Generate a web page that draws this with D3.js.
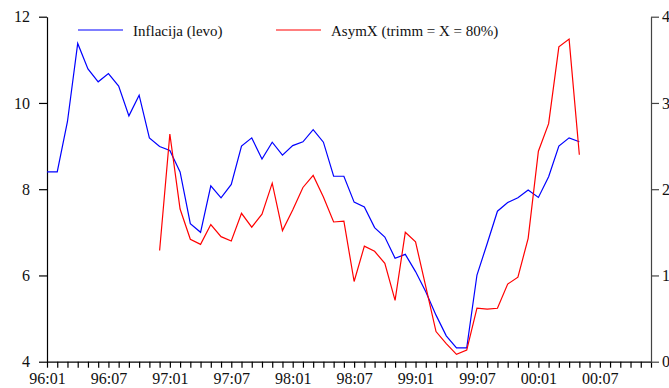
<!DOCTYPE html>
<html>
<head>
<meta charset="utf-8">
<script src="https://cdn.jsdelivr.net/npm/d3@7"></script>
<style>
  body { margin: 0; background: #fff; }
  .axis path, .axis line { stroke: #000; stroke-width: 1.2; }
  .raxis path, .raxis line { stroke: #444; }
</style>
</head>
<body>
<svg id="chart"></svg>
<script>
// months run from 96:01 (index 0) to 00:12 (index 59)
const monthCount = 60
const tickLabels = ['96:01', '96:07', '97:01', '97:07', '98:01', '98:07', '99:01', '99:07', '00:01', '00:07']

// inflation, left axis, from 96:01
const inflacija = [8.40, 8.40, 9.57, 11.38, 10.79, 10.49, 10.68, 10.39, 9.70, 10.18,
  9.19, 8.99, 8.90, 8.40, 7.20, 7.00, 8.08, 7.80, 8.11, 9.00,
  9.19, 8.70, 9.09, 8.79, 9.01, 9.10, 9.38, 9.09, 8.30, 8.30,
  7.70, 7.59, 7.11, 6.89, 6.40, 6.49, 6.09, 5.62, 5.08, 4.60,
  4.32, 4.32, 6.01, 6.74, 7.49, 7.69, 7.80, 7.98, 7.81, 8.29,
  9.00, 9.19, 9.10]

// AsymX, right axis, starts at 96:12
const asymStart = 11
const asymX = [1.29, 2.64, 1.77, 1.42, 1.36, 1.59, 1.45, 1.40, 1.72,
  1.56, 1.71, 2.07, 1.52, 1.76, 2.02, 2.16, 1.91, 1.62, 1.63,
  0.93, 1.34, 1.28, 1.14, 0.71, 1.50, 1.39, 0.87, 0.35, 0.21,
  0.085, 0.135, 0.62, 0.61, 0.62, 0.90, 0.98, 1.43, 2.44, 2.76,
  3.65, 3.74, 2.40]

const leftTicks = [4, 6, 8, 10, 12]
const rightTicks = [0, 1, 2, 3, 4]

const serif = 'Liberation Serif, Times New Roman, Times, serif'
const width = 669, height = 388
const svg = d3.select('#chart').attr('width', width).attr('height', height)

const x = d3.scaleLinear().domain([0, monthCount - 1]).range([47, 651])
const yLeft = d3.scaleLinear().domain([4, 12]).range([361.7, 16.7])
const yRight = d3.scaleLinear().domain([0, 4]).range([361.7, 16.7])

// bottom axis, a tick every month, a label every six
svg.append('g')
  .attr('class', 'axis')
  .attr('transform', `translate(0,${yLeft(4)})`)
  .call(d3.axisBottom(x)
    .tickValues(d3.range(0, monthCount))
    .tickSize(6)
    .tickSizeOuter(0)
    .tickPadding(5)
    .tickFormat(i => i % 6 === 0 ? tickLabels[i / 6] : ''))

svg.append('g')
  .attr('class', 'axis')
  .attr('transform', `translate(${x(0)},0)`)
  .call(d3.axisLeft(yLeft).tickValues(leftTicks).tickSize(8).tickSizeOuter(0).tickPadding(9))

svg.append('g')
  .attr('class', 'axis raxis')
  .attr('transform', `translate(${x(monthCount - 1)},0)`)
  .call(d3.axisRight(yRight).tickValues(rightTicks).tickSize(8).tickSizeOuter(0).tickPadding(3))

svg.selectAll('.axis')
  .attr('font-family', serif)
  .attr('font-size', 16)
svg.selectAll('.axis text').attr('fill', '#111')

// lines
const lineLeft = d3.line().x((d, i) => x(i)).y(d => yLeft(d))
const lineRight = d3.line().x((d, i) => x(i + asymStart)).y(d => yRight(d))

svg.append('path')
  .datum(inflacija)
  .attr('d', lineLeft)
  .attr('fill', 'none')
  .attr('stroke', '#0000ff')
  .attr('stroke-width', 1.2)

svg.append('path')
  .datum(asymX)
  .attr('d', lineRight)
  .attr('fill', 'none')
  .attr('stroke', '#ff0000')
  .attr('stroke-width', 1.2)

// legend
const legend = [
  { label: 'Inflacija (levo)', color: '#0000ff', x: 78 },
  { label: 'AsymX (trimm = X = 80%)', color: '#ff0000', x: 276 }
]
const legendItems = svg.append('g').selectAll('g')
  .data(legend)
  .join('g')
  .attr('transform', d => `translate(${d.x},30)`)
legendItems.append('line')
  .attr('x1', 0).attr('x2', 45)
  .attr('stroke', d => d.color)
  .attr('stroke-width', 1.2)
legendItems.append('text')
  .attr('x', 55)
  .attr('y', 5.5)
  .attr('font-family', serif)
  .attr('font-size', 15)
  .attr('fill', '#111')
  .text(d => d.label)
</script>
</body>
</html>
